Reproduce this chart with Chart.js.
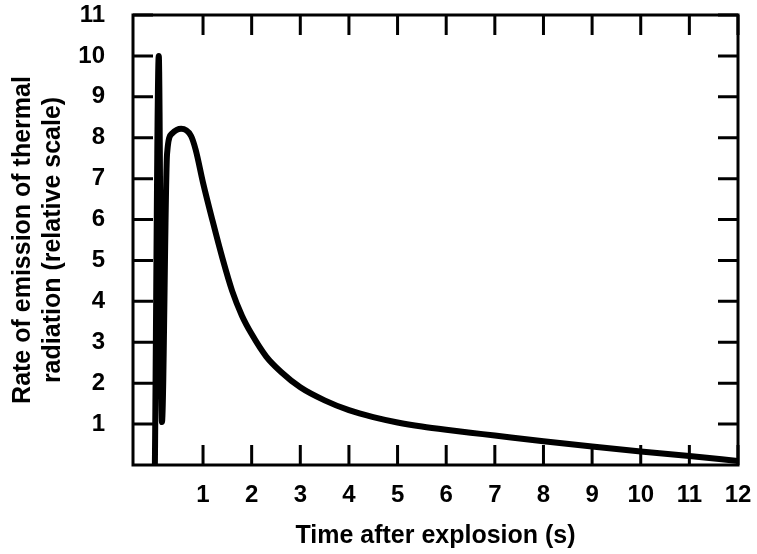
<!DOCTYPE html>
<html>
<head>
<meta charset="utf-8">
<script src="https://cdn.jsdelivr.net/npm/chart.js@4.4.1/dist/chart.umd.min.js"></script>
<style>
  html, body { margin: 0; padding: 0; background: #fff; }
  canvas { display: block; }
</style>
</head>
<body>
<canvas id="myChart" width="757" height="554"></canvas>
<script>
// time after explosion (s) and relative emission rate
const times = [0.01, 0.09, 0.155, 0.26, 0.36, 0.55, 0.75, 0.85, 1.0, 1.2, 1.4, 1.6, 1.8, 2.0, 2.3, 2.6, 3.0, 3.5, 4.0, 4.5, 5.0, 5.5, 6.0, 6.5, 7.0, 8.0, 9.0, 10.0, 11.0, 12.0];
const rates = [0, 10, 1.05, 7.6, 8.1, 8.22, 8.05, 7.7, 6.9, 5.95, 5.05, 4.25, 3.65, 3.2, 2.65, 2.28, 1.9, 1.58, 1.34, 1.17, 1.04, 0.94, 0.86, 0.79, 0.72, 0.58, 0.45, 0.33, 0.22, 0.1];

const xTicks = [1, 2, 3, 4, 5, 6, 7, 8, 9, 10, 11, 12];
const yTicks = [1, 2, 3, 4, 5, 6, 7, 8, 9, 10, 11];

const points = times.map((t, i) => ({ x: t, y: rates[i] }));
const fontFamily = '"Liberation Sans", Arial, sans-serif';

// frame plus inward tick marks on all four sides
const framePlugin = {
    id: 'frame',
    afterDraw(chart) {
        const ctx = chart.ctx;
        const area = chart.chartArea;
        const xs = chart.scales.x;
        const ys = chart.scales.y;
        const len = 20;
        ctx.save();
        ctx.strokeStyle = '#000';
        ctx.lineWidth = 3;
        ctx.strokeRect(area.left, area.top, area.right - area.left, area.bottom - area.top);
        ctx.beginPath();
        xTicks.forEach(v => {
            const px = xs.getPixelForValue(v);
            ctx.moveTo(px, area.bottom);
            ctx.lineTo(px, area.bottom - len);
            ctx.moveTo(px, area.top);
            ctx.lineTo(px, area.top + len);
        });
        yTicks.forEach(v => {
            const py = ys.getPixelForValue(v);
            ctx.moveTo(area.left, py);
            ctx.lineTo(area.left + len, py);
            ctx.moveTo(area.right, py);
            ctx.lineTo(area.right - len, py);
        });
        ctx.stroke();
        ctx.restore();
    }
};

new Chart(document.getElementById('myChart').getContext('2d'), {
    type: 'line',
    data: {
        datasets: [{
            data: points,
            borderColor: '#000',
            borderWidth: 6,
            pointRadius: 0,
            fill: false,
            cubicInterpolationMode: 'monotone',
            borderJoinStyle: 'round',
            borderCapStyle: 'round'
        }]
    },
    options: {
        responsive: false,
        animation: false,
        devicePixelRatio: 1,
        layout: { padding: { left: 0, right: 19, top: 15, bottom: 0 } },
        plugins: {
            legend: { display: false },
            tooltip: { enabled: false }
        },
        scales: {
            x: {
                type: 'linear',
                min: -0.44,
                max: 12,
                grid: { display: false },
                border: { display: false },
                afterBuildTicks: scale => { scale.ticks = xTicks.map(v => ({ value: v })); },
                afterFit: scale => {
                    scale.height = 89;
                    scale.paddingLeft = 0;
                    scale.paddingRight = 0;
                },
                ticks: {
                    padding: 8,
                    color: '#000',
                    maxRotation: 0,
                    autoSkip: false,
                    font: { family: fontFamily, size: 24, weight: 'bold' }
                },
                title: {
                    display: true,
                    text: 'Time after explosion (s)',
                    color: '#000',
                    padding: { top: 0, bottom: 3 },
                    font: { family: fontFamily, size: 25, weight: 'bold', lineHeight: 1.2 }
                }
            },
            y: {
                min: 0,
                max: 11,
                grid: { display: false },
                border: { display: false },
                afterBuildTicks: scale => { scale.ticks = yTicks.map(v => ({ value: v })); },
                afterFit: scale => {
                    scale.width = 133;
                    scale.paddingTop = 0;
                    scale.paddingBottom = 0;
                },
                ticks: {
                    padding: 20,
                    color: '#000',
                    autoSkip: false,
                    font: { family: fontFamily, size: 24, weight: 'bold' }
                },
                title: {
                    display: true,
                    text: ['Rate of emission of thermal', 'radiation (relative scale)'],
                    color: '#000',
                    padding: { top: 8, bottom: 0 },
                    font: { family: fontFamily, size: 25, weight: 'bold', lineHeight: 1.2 }
                }
            }
        }
    },
    plugins: [framePlugin]
});
</script>
</body>
</html>
